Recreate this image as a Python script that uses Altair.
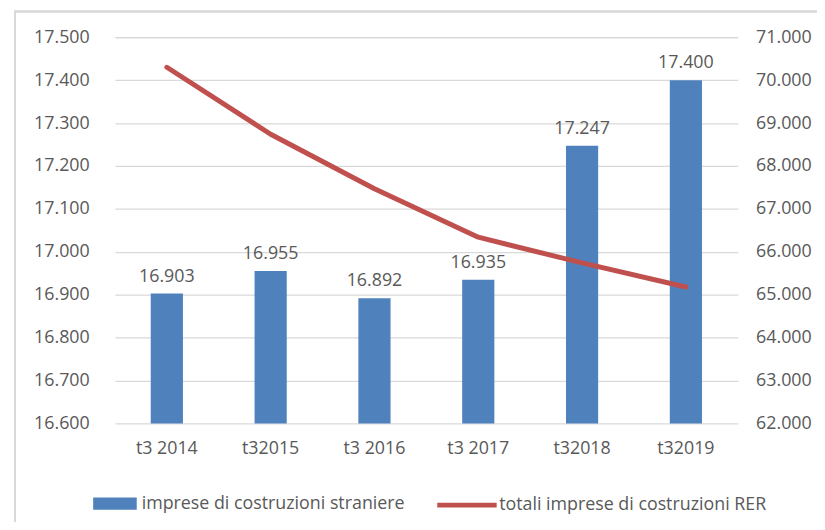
import altair as alt
import pandas as pd

categories = ["t3 2014", "t32015", "t3 2016", "t3 2017", "t32018", "t32019"]
stranieri = [16903, 16955, 16892, 16935, 17247, 17400]
totali_rer = [70300, 68740, 67470, 66340, 65740, 65180]

bar_name = "imprese di costruzioni straniere"
line_name = "totali imprese di costruzioni RER"

df = pd.DataFrame({
    "cat": categories,
    "stranieri": stranieri,
    "totali": totali_rer,
    "base": [16600] * len(categories),
    "label": [f"{v:,}".replace(",", ".") for v in stranieri],
    "s_bar": [bar_name] * len(categories),
    "s_line": [line_name] * len(categories),
})

FONT = "Open Sans"
GREY = "#595959"
BLUE = "#4F81BD"
RED = "#C0504D"
FS = 18

xenc = alt.X("cat:N", sort=categories, title=None,
             scale=alt.Scale(paddingInner=0.69, paddingOuter=0.345),
             axis=alt.Axis(labelAngle=0, ticks=False, domain=False, labelPadding=16,
                           labelFontSize=FS, labelColor=GREY, labelFont=FONT))

yleft_scale = alt.Scale(domain=[16600, 17500], zero=False, nice=False)
num_expr = "replace(format(datum.value, ','), ',', '.')"
left_axis = alt.Axis(orient="left", values=list(range(16600, 17501, 100)),
                     labelExpr=num_expr, ticks=False, domain=False,
                     grid=True, gridColor="#d9d9d9", gridWidth=1.3,
                     labelPadding=26, labelFontSize=FS, labelColor=GREY,
                     labelFont=FONT)

base = alt.Chart(df)

bars = base.mark_bar(color=BLUE).encode(
    x=xenc,
    y=alt.Y("stranieri:Q", scale=yleft_scale, title=None, axis=left_axis),
    y2="base:Q",
    fill=alt.Fill("s_bar:N", title=None,
                  scale=alt.Scale(domain=[bar_name], range=[BLUE]),
                  legend=alt.Legend(orient="none", legendX=-22, legendY=449,
                                    symbolType="M-1,-0.28H1V0.28H-1Z",
                                    symbolSize=1936, symbolStrokeWidth=0,
                                    labelFontSize=FS, labelColor=GREY,
                                    labelFont=FONT, labelOffset=5, labelLimit=500)),
)

texts = base.mark_text(baseline="bottom", dy=-8, fontSize=FS, color=GREY, font=FONT).encode(
    x=alt.X("cat:N", sort=categories),
    y=alt.Y("stranieri:Q", scale=yleft_scale, title=None, axis=left_axis),
    text="label:N",
)

left = alt.layer(bars, texts)

line = base.mark_line(strokeWidth=5, strokeCap="round", strokeJoin="round").encode(
    x=alt.X("cat:N", sort=categories),
    y=alt.Y("totali:Q", title=None,
            scale=alt.Scale(domain=[62000, 71000], zero=False, nice=False),
            axis=alt.Axis(orient="right", values=list(range(62000, 71001, 1000)),
                          labelExpr=num_expr, ticks=False, domain=False, grid=False,
                          labelPadding=18, labelFontSize=FS, labelColor=GREY,
                          labelFont=FONT)),
    stroke=alt.Stroke("s_line:N", title=None,
                      scale=alt.Scale(domain=[line_name], range=[RED]),
                      legend=alt.Legend(orient="none", legendX=323, legendY=440,
                                        symbolType="stroke", symbolSize=3600,
                                        symbolStrokeWidth=5,
                                        labelFontSize=FS, labelColor=GREY,
                                        labelFont=FONT, labelOffset=0, labelLimit=500)),
)

main = alt.layer(left, line).resolve_scale(
    y="independent", fill="independent", stroke="independent"
)

frame = alt.Chart(df).mark_rect(fill=None, stroke="#d9d9d9", strokeWidth=1.5).encode(
    x=alt.value(-101), x2=alt.value(730), y=alt.value(-26), y2=alt.value(520)
)

chart = alt.layer(frame, main).properties(
    width=629, height=390,
    autosize=alt.AutoSizeParams(type="none"),
    padding={"left": 108, "top": 27, "right": 80, "bottom": 97},
).configure_view(stroke=None)

chart.save("out.html", embed_options={"renderer": "svg", "actions": False})
